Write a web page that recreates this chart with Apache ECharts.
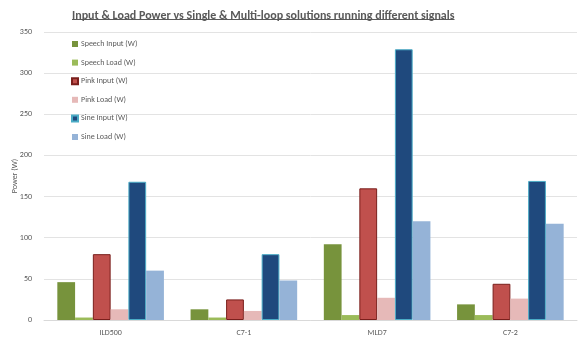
<!DOCTYPE html>
<html><head><meta charset="utf-8">
<script src="https://cdn.jsdelivr.net/npm/echarts@6/dist/echarts.min.js"></script>
<style>html,body{margin:0;padding:0;background:#fff}#c{width:582px;height:344px}</style>
</head><body><div id="c"></div>
<script>
const categories = ['ILD500', 'C7-1', 'MLD7', 'C7-2'];
const seriesNames = ['Speech Input (W)', 'Speech Load (W)', 'Pink Input (W)', 'Pink Load (W)', 'Sine Input (W)', 'Sine Load (W)'];
const speechInput = [46, 13, 92, 19];
const speechLoad = [3, 3, 6, 6];
const pinkInput = [80, 25, 160, 44];
const pinkLoad = [13, 11, 27, 26];
const sineInput = [168, 80, 329, 169];
const sineLoad = [60, 48, 120, 117];
const yTicks = [0, 50, 100, 150, 200, 250, 300, 350];

const values = [speechInput, speechLoad, pinkInput, pinkLoad, sineInput, sineLoad];
const colors = ['#77933C', '#9BBB59', '#C0504D', '#E6B9B8', '#1F497D', '#95B3D7'];
const borders = [null, null, '#7A1F1C', null, '#4BACC6', null];

const font = 'Carlito, "Open Sans", "Noto Sans", sans-serif';
const titleText = 'Input & Load Power vs Single & Multi-loop solutions running different signals';
const titleSize = 12;
const titleLeft = 72;
const cv = document.createElement('canvas').getContext('2d');
cv.font = 'bold ' + titleSize + 'px ' + font;
const tw = cv.measureText(titleText).width;

const chart = echarts.init(document.getElementById('c'), null, {renderer: 'canvas'});
chart.setOption({
  animation: false,
  title: {
    text: titleText,
    left: titleLeft - 5, top: 5,
    textStyle: {fontSize: titleSize, fontWeight: 'bold', color: '#595959', fontFamily: font}
  },
  graphic: [{type: 'line', shape: {x1: titleLeft, y1: 19.5, x2: titleLeft + tw, y2: 19.5}, style: {stroke: '#595959', lineWidth: 1}}],
  legend: {
    orient: 'vertical', left: 66, top: 35,
    itemWidth: 6, itemHeight: 6, itemGap: 10.6,
    icon: 'rect',
    textStyle: {fontSize: 8, color: '#595959', fontFamily: font, padding: [0, 0, 0, -2]},
    data: seriesNames
  },
  grid: {left: 44, right: 5, top: 32, bottom: 24, outerBoundsMode: 'none', containLabel: false},
  xAxis: {
    type: 'category', data: categories,
    axisLine: {lineStyle: {color: '#d9d9d9'}},
    axisTick: {show: false},
    axisLabel: {fontSize: 8, color: '#595959', fontFamily: font, margin: 9}
  },
  yAxis: {
    type: 'value', min: yTicks[0], max: yTicks[yTicks.length - 1], interval: 50,
    name: 'Power (W)', nameLocation: 'middle', nameGap: 25, nameMoveOverlap: false,
    nameTextStyle: {fontSize: 8, color: '#595959', fontFamily: font},
    axisLine: {show: false}, axisTick: {show: false},
    axisLabel: {fontSize: 8, color: '#595959', fontFamily: font, margin: 12},
    splitLine: {lineStyle: {color: '#e3e3e3'}}
  },
  series: values.map((v, i) => ({
    name: seriesNames[i], type: 'bar', data: v,
    barGap: '0%', barCategoryGap: '20%',
    itemStyle: Object.assign({color: colors[i]}, borders[i] ? {borderColor: borders[i], borderWidth: 1} : {})
  }))
});
</script></body></html>
